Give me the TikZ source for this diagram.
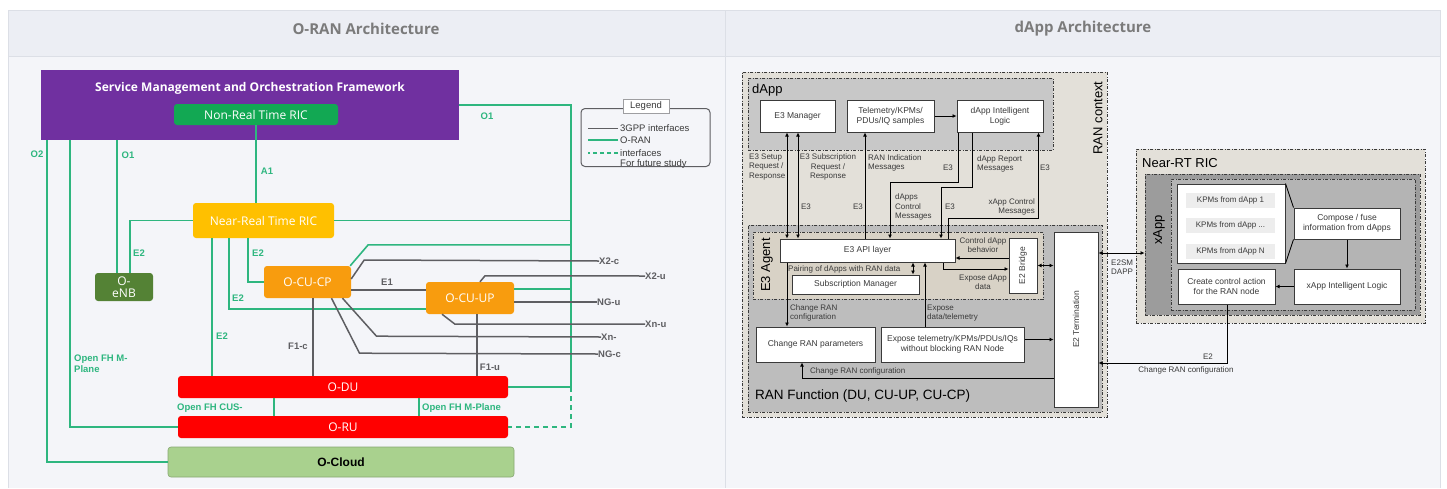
\documentclass[tikz,border=0pt]{standalone}
\usepackage{fontspec}
\setmainfont{Liberation Sans}
\newfontfamily\osans{Open Sans}
\usetikzlibrary{arrows.meta}

\definecolor{headBg}{HTML}{ECEEF4}
\definecolor{bodyBg}{HTML}{F4F5F9}
\definecolor{frameLine}{HTML}{DCDFE6}
\definecolor{titleGray}{HTML}{7B7B7B}
\definecolor{oranGreen}{HTML}{2EB67F}
\definecolor{lineGray}{HTML}{5E5E62}
\definecolor{smoPurple}{HTML}{7030A0}
\definecolor{nrtGreen}{HTML}{12A853}
\definecolor{ricGold}{HTML}{FFC000}
\definecolor{cuOrange}{HTML}{F89C0E}
\definecolor{enbGreen}{HTML}{548235}
\definecolor{duRed}{HTML}{FF0000}
\definecolor{cloudGreen}{HTML}{A9D18E}
\definecolor{ctxBeige}{HTML}{E3E0D9}
\definecolor{agentBeige}{HTML}{D8D2C6}
\definecolor{dappGray}{HTML}{C8C8C8}
\definecolor{funcGray}{HTML}{BDBDBD}
\definecolor{xappGray}{HTML}{9C9C9C}
\definecolor{innerGray}{HTML}{B4B4B4}
\definecolor{rowGray}{HTML}{EDEDED}
\definecolor{inkGray}{HTML}{3A3A3A}

\newcommand{\kpmdots}{...}

\tikzset{
  oran/.style={draw=oranGreen, line width=1.6pt},
  oranfut/.style={oran, dash pattern=on 5pt off 4pt},
  gpp/.style={draw=lineGray, line width=1.5pt},
  cbox/.style={rounded corners=3pt, text=white, inner sep=0pt,
    font=\osans\fontsize{12}{13}\selectfont},
  glab/.style={text=oranGreen, inner sep=0pt,
    font=\bfseries\fontsize{9.5}{11}\selectfont},
  ilab/.style={text=lineGray, inner sep=0pt,
    font=\bfseries\fontsize{9.5}{11}\selectfont},
  leglab/.style={text=inkGray, inner sep=0pt, anchor=west,
    font=\fontsize{9.5}{11}\selectfont},
  ddot/.style={draw=inkGray, line width=0.9pt,
    dash pattern=on 3pt off 1.5pt on 1pt off 1.5pt},
  wbox/.style={draw=inkGray, fill=white, line width=1pt, inner sep=0pt,
    align=center, text=inkGray, font=\fontsize{8.5}{10}\selectfont},
  rlab/.style={text=inkGray, inner sep=0pt, font=\fontsize{8}{9.5}\selectfont},
  arr/.style={draw=black, line width=0.9pt, -{Latex[length=4pt,width=4pt]}},
  darr/.style={draw=black, line width=0.9pt,
    {Latex[length=4pt,width=4pt]}-{Latex[length=4pt,width=4pt]}},
  pln/.style={draw=black, line width=0.9pt}
}

\begin{document}
\begin{tikzpicture}[x=1pt,y=-1pt]
\useasboundingbox (0,0) rectangle (1447,488);

% page frame and headers
\fill[white] (0,0) rectangle (1447,488);
\fill[headBg] (8,10) rectangle (1440,56);
\fill[bodyBg] (8,56) rectangle (1440,488);
\draw[frameLine, line width=1pt] (8,488) -- (8,10) -- (1440,10) -- (1440,488);
\draw[frameLine, line width=1pt] (8,56) -- (1440,56);
\draw[frameLine, line width=1pt] (725,10) -- (725,488);
\node[text=titleGray, font=\osans\bfseries\fontsize{15}{17}\selectfont] (tleft) at (366,29) {O-RAN Architecture};
\node[text=titleGray, font=\osans\bfseries\fontsize{15}{17}\selectfont] (tright) at (1083,29) {dApp Architecture};

%%%%%%%%%%%%%%%% O-RAN architecture
\node[cbox, rounded corners=0pt, fill=smoPurple, minimum width=418pt, minimum height=70pt] (smo) at (250,105) {};
\node[text=white, font=\osans\bfseries\fontsize{12}{14}\selectfont] (smotxt) at (250,88) {Service Management and Orchestration Framework};
\node[cbox, fill=nrtGreen, minimum width=164pt, minimum height=21pt] (nrt) at (256,114.5) {Non-Real Time RIC};
\node[cbox, fill=ricGold, minimum width=141pt, minimum height=35pt] (nearric) at (263.5,220.5) {Near-Real Time RIC};
\node[cbox, fill=enbGreen, minimum width=58pt, minimum height=28pt, align=center] (enb) at (124,287) {O-\\[-1pt]eNB};
\node[cbox, fill=cuOrange, minimum width=87pt, minimum height=32pt] (cucp) at (307.5,282) {O-CU-CP};
\node[cbox, fill=cuOrange, minimum width=88pt, minimum height=32pt] (cuup) at (470,298) {O-CU-UP};
\node[cbox, fill=duRed, minimum width=330pt, minimum height=22pt] (odu) at (343,387) {O-DU};
\node[cbox, fill=duRed, minimum width=330pt, minimum height=22pt] (oru) at (343,427) {O-RU};
\node[cbox, fill=cloudGreen, draw=cloudGreen!80!black, line width=0.6pt, text=black,
  font=\bfseries\fontsize{12}{14}\selectfont, minimum width=346pt, minimum height=30pt] (ocloud) at (341,462) {O-Cloud};

\coordinate (bus) at (571,0);
\coordinate (o2x) at (47,0);
\coordinate (fhx) at (70,0);
\coordinate (o1x) at (117,0);
\coordinate (e2enb) at (130,0);
\coordinate (e2du) at (212,0);
\coordinate (e2up) at (229,0);
\coordinate (e2cp) at (248,0);
\coordinate (fha) at (274,0);
\coordinate (fhb) at (419,0);
\coordinate (f1c) at (313,0);
\coordinate (f1u) at (477,0);

% O-RAN interfaces
\draw[oran] (smo.east) -| (odu.east -| bus) -- (odu.east);
\draw[oranfut] (odu.east -| bus) |- (oru.east);
\draw[oran] (nearric.east) -- (nearric.east -| bus);
\draw[oran] ([xshift=-1pt]cucp.north east) -- ++(18,-21) coordinate (cpk) -- (cpk -| bus);
\draw[oran] ([yshift=9pt]cuup.east) -- ([yshift=9pt]cuup.east -| bus);
\draw[oran] (smo.south -| o2x) |- (ocloud.west);
\draw[oran] (smo.south -| fhx) |- (oru.west);
\draw[oran] (smo.south -| o1x) -- (enb.north -| o1x);
\draw[oran] (nrt.south) -- (nrt.south |- nearric.north);
\draw[oran] (nearric.west) -| (enb.north -| e2enb);
\draw[oran] (nearric.south -| e2du) -- (odu.north -| e2du);
\draw[oran] (nearric.south -| e2up) |- ([yshift=-11pt]cuup.west);
\draw[oran] (nearric.south -| e2cp) |- (cucp.west);
\draw[oran] (odu.south -| fha) -- (oru.north -| fha);
\draw[oran] (odu.south -| fhb) -- (oru.north -| fhb);

% 3GPP interface end labels
\node[ilab, anchor=west] (x2c) at (599,261) {X2-c};
\node[ilab, anchor=west] (x2u) at (645,276) {X2-u};
\node[ilab, anchor=west] (ngu) at (597,302) {NG-u};
\node[ilab, anchor=west] (xnu) at (645,324) {Xn-u};
\node[ilab, anchor=west] (xnc) at (601,337) {Xn-};
\node[ilab, anchor=west] (ngc) at (598,354) {NG-c};

% 3GPP interfaces
\draw[gpp] (cucp.south -| f1c) -- (odu.north -| f1c);
\draw[gpp] (cuup.south -| f1u) -- (odu.north -| f1u);
\draw[gpp] ([yshift=-8pt]cucp.east) -- ([yshift=-8pt]cucp.east -| cuup.west);
\draw[gpp] ([yshift=3pt]cucp.east) -- ++(13,-19) -- (x2c.west);
\draw[gpp] ([xshift=10pt]cuup.north) -- ++(5,-6) -- (x2u.west);
\draw[gpp] ([yshift=-4pt]cuup.east) -- (ngu.west);
\draw[gpp] ([xshift=-28pt]cuup.south) -- ++(13,10) -- (xnu.west);
\draw[gpp] ([xshift=35pt]cucp.south) -- ++(34,38) -- (xnc.west);
\draw[gpp] ([xshift=24pt]cucp.south) -- ++(28,55) -- (ngc.west);

% interface labels
\node[glab] (lo2) at (37,154) {O2};
\node[glab] (lo1a) at (128,155) {O1};
\node[glab] (la1) at (267,171) {A1};
\node[glab] (lo1b) at (487,116) {O1};
\node[glab] (le2a) at (139,253) {E2};
\node[glab] (le2b) at (258,253) {E2};
\node[glab] (le2c) at (238,298) {E2};
\node[glab] (le2d) at (222,336) {E2};
\node[glab, anchor=west, align=left] (lfhm) at (74,364) {Open FH M-\\Plane};
\node[glab, anchor=west] (lcus) at (177,408) {Open FH CUS-};
\node[glab, anchor=west] (lfhm2) at (422,408) {Open FH M-Plane};
\node[ilab] (le1) at (387,282) {E1};
\node[ilab] (lf1c) at (298,346) {F1-c};
\node[ilab] (lf1u) at (490,367) {F1-u};

% legend
\node[leglab] (lg1) at (620,128) {3GPP interfaces};
\node[leglab] (lg2) at (620,140) {O-RAN};
\node[leglab] (lg3) at (620,153) {interfaces};
\node[leglab] (lg4) at (620,164.5) {For future study};
\draw[draw=lineGray, line width=1pt] ([xshift=-2pt]lg1.west) -- ++(-30,0);
\draw[oran, line width=1.3pt] ([xshift=-2pt]lg2.west) -- ++(-30,0);
\draw[oran, line width=1.3pt, dash pattern=on 4pt off 3pt] ([xshift=-2pt]lg3.west) -- ++(-30,0);
\node[draw=lineGray, rounded corners=4pt, line width=1pt, minimum width=129pt, minimum height=58pt] (legend) at (645.5,137.5) {};
\node[draw=lineGray!60, fill=white, line width=0.6pt, inner sep=0pt, minimum width=46pt, minimum height=14pt,
  text=inkGray, font=\fontsize{9.5}{11}\selectfont] (legtitle) at (646,106) {Legend};

%%%%%%%%%%%%%%%% dApp architecture
\node[ddot, fill=ctxBeige, minimum width=365pt, minimum height=345pt] (ctx) at (924.5,244.5) {};
\node[ddot, fill=dappGray, minimum width=305pt, minimum height=72pt] (dapp) at (900.5,114) {};
\node[ddot, fill=funcGray, minimum width=354pt, minimum height=187pt] (ranfunc) at (925,318.5) {};
\node[ddot, fill=agentBeige, minimum width=290pt, minimum height=67pt] (agent) at (898,265.5) {};

\node[anchor=west, inner sep=0pt, font=\fontsize{13}{15}\selectfont] (ldapp) at (752,90) {dApp};
\node[rotate=90, inner sep=0pt, font=\fontsize{13}{15}\selectfont] (lctx) at (1098,118) {RAN context};
\node[rotate=90, inner sep=0pt, font=\fontsize{13}{15}\selectfont] (lagent) at (767,265) {E3 Agent};
\node[anchor=west, inner sep=0pt, font=\fontsize{13.5}{15}\selectfont] (lfunc) at (755,396) {RAN Function (DU, CU-UP, CU-CP)};

\node[wbox, minimum width=75pt, minimum height=32pt] (e3mgr) at (797.5,116) {E3 Manager};
\node[wbox, minimum width=87pt, minimum height=32pt] (telem) at (890.5,116) {Telemetry/KPMs/\\PDUs/IQ samples};
\node[wbox, minimum width=86pt, minimum height=32pt] (dappil) at (1000,116) {dApp Intelligent\\Logic};
\node[wbox, minimum width=175pt, minimum height=23pt] (e3api) at (867.5,250.5) {E3 API layer};
\node[wbox, minimum width=28pt, minimum height=55pt] (e2bridge) at (1023,265.5) {};
\node[rotate=90, inner sep=0pt, text=inkGray, font=\fontsize{8.5}{10}\selectfont] (e2btxt) at (1023,265.5) {E2 Bridge};
\node[wbox, minimum width=127pt, minimum height=19pt] (submgr) at (855.5,284.5) {Subscription Manager};
\node[wbox, minimum width=119pt, minimum height=35pt] (chgran) at (815.5,344.5) {Change RAN parameters};
\node[wbox, minimum width=143pt, minimum height=35pt] (expose) at (952.5,344.5) {Expose telemetry/KPMs/PDUs/IQs\\without blocking RAN Node};
\node[wbox, minimum width=44pt, minimum height=175pt] (e2term) at (1076,319.5) {};
\node[rotate=90, inner sep=0pt, text=inkGray, font=\fontsize{8.5}{10}\selectfont] (e2ttxt) at (1076,319.5) {E2 Termination};

\node[ddot, fill=ctxBeige, minimum width=289pt, minimum height=174pt] (nearrt) at (1280.5,236) {};
\node[ddot, fill=xappGray, minimum width=275pt, minimum height=141pt] (xapp) at (1282.5,244.5) {};
\node[ddot, fill=innerGray, minimum width=244pt, minimum height=131pt] (xinner) at (1293,244.5) {};
\node[anchor=west, inner sep=0pt, font=\fontsize{13}{15}\selectfont] (lnear) at (1142,163) {Near-RT RIC};
\node[rotate=90, inner sep=0pt, font=\fontsize{13}{15}\selectfont] (lxapp) at (1159,230) {xApp};

\node[wbox, minimum width=108pt, minimum height=79pt] (kpms) at (1231,223.5) {};
\foreach \i/\yy/\t in {1/200/1, 2/225/\kpmdots, 3/251/N}
  \node[fill=rowGray, inner sep=0pt, minimum width=89pt, minimum height=15pt, text=inkGray,
    font=\fontsize{8}{9}\selectfont] (kpm\i) at (1230.5,\yy) {KPMs from dApp \t};
\node[wbox, minimum width=106pt, minimum height=31pt] (compose) at (1347,223.5) {Compose / fuse\\information from dApps};
\node[wbox, minimum width=106pt, minimum height=35pt] (xappil) at (1347,286.5) {xApp Intelligent Logic};
\node[wbox, minimum width=97pt, minimum height=35pt] (create) at (1226.5,286.5) {Create control action\\for the RAN node};

% helper coordinates for the E3 arrows
\coordinate (m1) at (787,0);
\coordinate (m2) at (798,0);
\coordinate (ri) at (865,0);
\coordinate (pa) at (890,182);
\coordinate (pb) at (941,187);
\coordinate (pc) at (948,218);
\coordinate (cfgx) at (925,0);
\coordinate (pairx) at (913,0);
\coordinate (cdb) at (0,258);
\coordinate (exd) at (943,269);
\coordinate (e2row) at (0,378);
\coordinate (chx) at (802,0);
\coordinate (smrow) at (0,253);
\coordinate (crow) at (0,363);

\draw[arr] (telem) -- (dappil);
\draw[darr] (e3mgr.south -| m1) -- (e3api.north -| m1);
\draw[darr] (e3mgr.south -| m2) -- (e3api.north -| m2);
\draw[arr] (e3api.north -| ri) -- (telem.south -| ri);
\draw[arr] ([xshift=2pt]dappil.south west) |- (pa) -- (e3api.north -| pa);
\draw[arr] ([xshift=16pt]dappil.south west) |- (pb) -- (e3api.north -| pb);
\draw[arr] (e3api.north -| pc) -- (pc) -| ([xshift=-5pt]dappil.south east);
\draw[darr] (e3api.south -| pairx) -- (submgr.north -| pairx);
\draw[arr] (e2bridge.west |- cdb) -- (e3api.east |- cdb);
\draw[arr] (e3api.south -| exd) |- (e2bridge.west |- exd);
\draw[darr] (e2bridge.east) -- (e2bridge.east -| e2term.west);
\draw[arr] (e3api.south -| m1) -- (chgran.north -| m1);
\draw[arr] (expose.north -| cfgx) -- (e3api.south -| cfgx);
\draw[arr] ([yshift=5pt]expose.east) -- ([yshift=5pt]expose.east -| e2term.west);
\draw[arr] (e2term.west |- e2row) -| (chgran.south -| chx);
\draw[darr] (e2term.east |- smrow) -- (xapp.west |- smrow);
\draw[arr] ([xshift=0.5pt]create.south) |- (e2term.east |- crow);
\draw[arr] (compose) -- (xappil);
\draw[arr] (xappil) -- (create);
\draw[pln] (kpms.north east) -- (compose.north west);
\draw[pln] (kpms.south east) -- (compose.south west);

% message labels
\node[rlab, anchor=west, align=left] (q1) at (749,167) {E3 Setup\\Request /\\Response};
\node[rlab, align=center] (q2) at (828,167) {E3 Subscription\\Request /\\Response};
\node[rlab, anchor=west, align=left] (q3) at (868,163) {RAN Indication\\Messages};
\node[rlab] (q4) at (948,168) {E3};
\node[rlab, anchor=west, align=left] (q5) at (977,164) {dApp Report\\Messages};
\node[rlab] (q6) at (1045,168) {E3};
\node[rlab] (q7) at (806,207) {E3};
\node[rlab] (q8) at (858,207) {E3};
\node[rlab, anchor=west, align=left] (q9) at (895,207) {dApps\\Control\\Messages};
\node[rlab] (q10) at (950,207) {E3};
\node[rlab, anchor=east, align=right] (q11) at (1035,207) {xApp Control\\Messages};
\node[rlab, anchor=west] (q12) at (788,269) {Pairing of dApps with RAN data};
\node[rlab, align=center] (q13) at (983,245) {Control dApp\\behavior};
\node[rlab, align=center] (q14) at (983,282) {Expose dApp\\data};
\node[rlab, anchor=west, align=left] (q15) at (790,313) {Change RAN\\configuration};
\node[rlab, anchor=west, align=left] (q16) at (927,313) {Expose\\data/telemetry};
\node[rlab, anchor=west] (q17) at (810,371) {Change RAN configuration};
\node[rlab, anchor=west, align=left] (q18) at (1111,267) {E2SM\\DAPP};
\node[rlab] (q19) at (1208,357) {E2};
\node[rlab] (q20) at (1186,370) {Change RAN configuration};

\end{tikzpicture}
\end{document}
